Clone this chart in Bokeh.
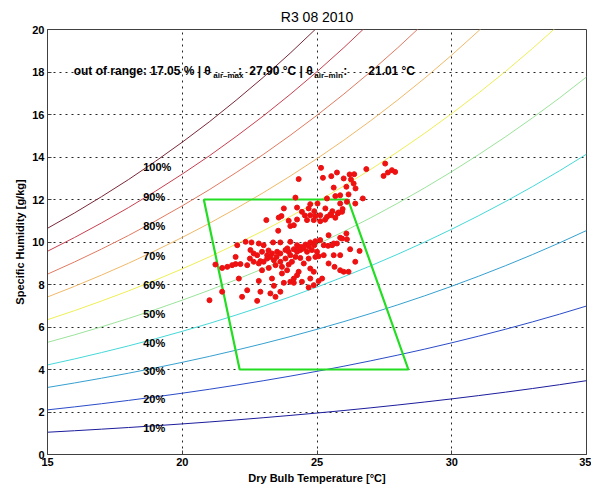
from bokeh.plotting import figure
from bokeh.models import Range1d, Label, FixedTicker, ColumnDataSource
from bokeh.core.properties import value
from bokeh.embed import file_html
from bokeh.resources import INLINE

# ---------------- data ----------------
title_text = "R3 08 2010"
x_label = "Dry Bulb Temperature [°C]"
y_label = "Specific Humidity [g/kg]"
x_ticks = [15, 20, 25, 30, 35]
y_ticks = [0, 2, 4, 6, 8, 10, 12, 14, 16, 18, 20]

# saturation vapour pressure table (kPa) at dry bulb temperatures (°C)
temps = [15, 16, 17, 18, 19, 20, 21, 22, 23, 24, 25, 26, 27, 28, 29, 30, 31, 32, 33, 34, 35]
psat_kpa = [1.705, 1.818, 1.938, 2.064, 2.198, 2.339, 2.487, 2.645, 2.810, 2.985, 3.169,
            3.363, 3.567, 3.782, 4.008, 4.246, 4.496, 4.758, 5.034, 5.323, 5.628]
pressure_kpa = 101.325

rh_levels = [10, 20, 30, 40, 50, 60, 70, 80, 90, 100]
rh_labels = ["10%", "20%", "30%", "40%", "50%", "60%", "70%", "80%", "90%", "100%"]
rh_label_q = [1.27, 2.59, 3.92, 5.27, 6.63, 7.97, 9.33, 10.74, 12.12, 13.53]
rh_label_t = 18.55
rh_colors = ["#1c1c9c", "#2a4bc8", "#35a0d0", "#45d8d8", "#9be39b",
             "#eeee55", "#f0b868", "#e07a60", "#c84050", "#7a2838"]

# comfort zone corners
comfort_t = [20.80, 26.15, 28.39, 22.13, 20.80]
comfort_q = [12.0, 12.0, 4.0, 4.0, 12.0]

# measured points (temperature °C, specific humidity g/kg)
obs_t = [27.53, 25.15, 25.74, 25.53, 26.21, 26.38, 26.83, 27.78, 27.90, 27.63, 27.47, 24.32, 25.22,
         25.99, 26.26, 26.36, 26.43, 25.62, 26.09, 25.86, 25.68, 26.17, 26.70, 25.37, 26.11, 26.42,
         24.20, 25.02, 24.75, 24.69, 25.31, 24.90, 24.44, 24.26, 23.77, 25.86, 25.57, 25.77, 25.93,
         25.49, 25.12, 24.94, 24.75, 23.68, 23.58, 23.12, 23.95, 24.26, 24.63, 24.88, 25.12, 25.37,
         25.53, 25.68, 25.80, 24.01, 24.14, 23.56, 25.43, 26.09, 25.86, 25.62, 26.11, 22.04, 22.35,
         22.57, 22.84, 23.02, 23.37, 23.64, 24.01, 24.26, 24.38, 24.57, 24.75, 24.94, 25.12, 25.25,
         25.41, 25.56, 25.74, 25.93, 22.53, 22.65, 22.78, 22.96, 23.15, 23.33, 23.52, 23.64, 23.83,
         23.95, 24.14, 24.26, 24.38, 24.51, 24.63, 24.81, 25.00, 25.06, 22.51, 22.65, 22.84, 23.02,
         23.15, 23.27, 23.40, 23.64, 23.83, 24.01, 24.20, 24.38, 21.98, 21.85, 21.67, 21.48, 21.98,
         22.41, 22.16, 21.23, 22.96, 23.21, 23.46, 23.70, 23.95, 24.07, 24.51, 24.69, 24.94, 25.62,
         25.86, 26.42, 26.58, 26.23, 25.43, 25.65, 25.86, 25.99, 26.17, 25.25, 23.89, 23.70, 24.32,
         24.26, 24.14, 24.01, 23.77, 24.75, 24.88, 24.75, 25.06, 25.19, 22.10, 22.84, 23.33, 23.40,
         22.41, 22.90, 23.27, 23.64, 22.22, 22.78, 23.46, 21.48, 21.01, 24.69, 24.88, 24.14, 24.44,
         24.45, 24.70, 24.30, 23.90, 24.90, 23.50, 23.20, 22.90, 24.55, 25.95, 25.30]
obs_q = [13.69, 13.49, 13.27, 13.10, 13.18, 13.19, 13.43, 13.38, 13.30, 13.27, 13.11, 12.96, 13.02,
         12.99, 12.94, 12.75, 12.52, 12.56, 12.60, 12.20, 12.16, 12.24, 12.05, 12.05, 11.89, 11.81,
         12.09, 11.81, 11.78, 11.58, 11.58, 11.45, 11.42, 11.62, 11.58, 11.81, 11.45, 11.34, 11.42,
         11.29, 11.26, 11.22, 11.26, 11.22, 11.15, 11.03, 11.00, 11.06, 11.03, 11.03, 10.98, 11.18,
         11.26, 11.14, 11.39, 10.75, 10.79, 10.53, 10.32, 10.40, 10.20, 9.93, 10.13, 9.85, 10.01,
         9.98, 9.93, 9.85, 9.98, 9.98, 10.01, 9.85, 9.77, 9.88, 9.98, 10.04, 10.09, 9.85,
         9.82, 9.85, 9.93, 10.16, 9.62, 9.46, 9.38, 9.54, 9.38, 9.46, 9.54, 9.46, 9.62,
         9.54, 9.66, 9.54, 9.62, 9.69, 9.54, 9.62, 9.54, 9.33, 9.22, 9.07, 8.99, 9.07,
         9.22, 9.30, 9.14, 9.07, 9.22, 9.38, 9.30, 9.25, 9.30, 8.91, 8.83, 8.78, 8.96,
         8.91, 8.96, 8.94, 8.67, 8.78, 8.91, 8.83, 8.94, 9.07, 8.99, 9.22, 9.30, 9.38,
         9.38, 9.07, 9.58, 9.66, 8.99, 8.83, 8.67, 8.60, 8.60, 9.38, 8.67, 8.52, 8.60,
         8.44, 8.28, 8.13, 8.08, 8.75, 8.60, 8.28, 8.16, 8.28, 8.28, 8.17, 8.28, 7.94,
         7.73, 7.66, 7.58, 7.66, 7.42, 7.23, 7.42, 7.66, 7.26, 7.86, 7.97, 8.08, 8.13,
         9.75, 9.80, 9.70, 9.70, 9.85, 9.30, 9.60, 9.10, 11.25, 11.55, 11.05]

out_of_range_pct = 17.05
t_air_max = 27.90
t_air_min = 21.01

# ---------------- figure ----------------
FONT = "Liberation Sans"

p = figure(width=591, height=491, x_range=Range1d(15, 35), y_range=Range1d(0, 20),
           output_backend="svg", toolbar_location=None,
           min_border_left=47, min_border_right=5, min_border_top=29, min_border_bottom=37)
p.background_fill_color = "white"
p.border_fill_color = "white"
p.outline_line_color = "#404040"
p.outline_line_width = 1

p.title.text = title_text
p.title.align = "center"
p.title.text_font = FONT
p.title.text_font_size = "14px"
p.title.text_font_style = "normal"
p.title.text_color = "black"

for ax in (p.xaxis[0], p.yaxis[0]):
    ax.major_label_text_font = FONT
    ax.major_label_text_font_size = "11px"
    ax.major_label_text_font_style = "bold"
    ax.major_label_text_color = "black"
    ax.axis_label_text_font = FONT
    ax.axis_label_text_font_size = "11px"
    ax.axis_label_text_font_style = "bold"
    ax.axis_label_text_color = "black"
    ax.axis_line_color = "#404040"
    ax.major_tick_line_color = "#404040"
    ax.major_tick_in = 4
    ax.major_tick_out = 0
    ax.minor_tick_line_color = None
    ax.major_label_standoff = 3
    ax.axis_label_standoff = 3

p.xaxis.ticker = FixedTicker(ticks=x_ticks)
p.yaxis.ticker = FixedTicker(ticks=y_ticks)
p.xaxis.axis_label = x_label
p.yaxis.axis_label = y_label

for g in (p.xgrid[0], p.ygrid[0]):
    g.grid_line_color = "black"
    g.grid_line_dash = "2 4"
    g.grid_line_width = 1
    g.grid_line_alpha = 0.85

# relative humidity curves
for rh, col in zip(rh_levels, rh_colors):
    r = rh / 100.0
    qs = [622.0 * r * ps / (pressure_kpa - r * ps) for ps in psat_kpa]
    p.line(temps, qs, line_color=col, line_width=1)

# RH labels
lab_src = ColumnDataSource(dict(x=[rh_label_t] * len(rh_labels), y=rh_label_q, t=rh_labels))
p.text(x="x", y="y", text="t", source=lab_src, text_font=value(FONT), text_font_size="11px",
       text_font_style="bold", text_align="left", text_baseline="middle", text_color="black")

# comfort zone
p.line(comfort_t, comfort_q, line_color="#22dd22", line_width=2.2)

# observations
p.scatter(obs_t, obs_q, size=5, fill_color="#ee1111", line_color="#ee1111", marker="circle")

# annotation with subscripts
main_y = 18.05
sub_y = 17.82
pieces = [
    (15.97, main_y, "out of range: %.2f %% | θ" % out_of_range_pct, "12px"),
    (21.15, sub_y, "air–max", "8px"),
    (22.07, main_y, ":", "12px"),
    (22.49, main_y, "%.2f °C | θ" % t_air_max, "12px"),
    (24.90, sub_y, "air–min", "8px"),
    (25.97, main_y, ":", "12px"),
    (26.90, main_y, "%.2f °C" % t_air_min, "12px"),
]
for x, y, txt, fs in pieces:
    p.add_layout(Label(x=x, y=y, text=txt, text_font=FONT, text_font_size=fs,
                       text_font_style="bold", text_color="black",
                       text_align="left", text_baseline="alphabetic"))

open("out.html", "w").write(file_html(p, INLINE))
